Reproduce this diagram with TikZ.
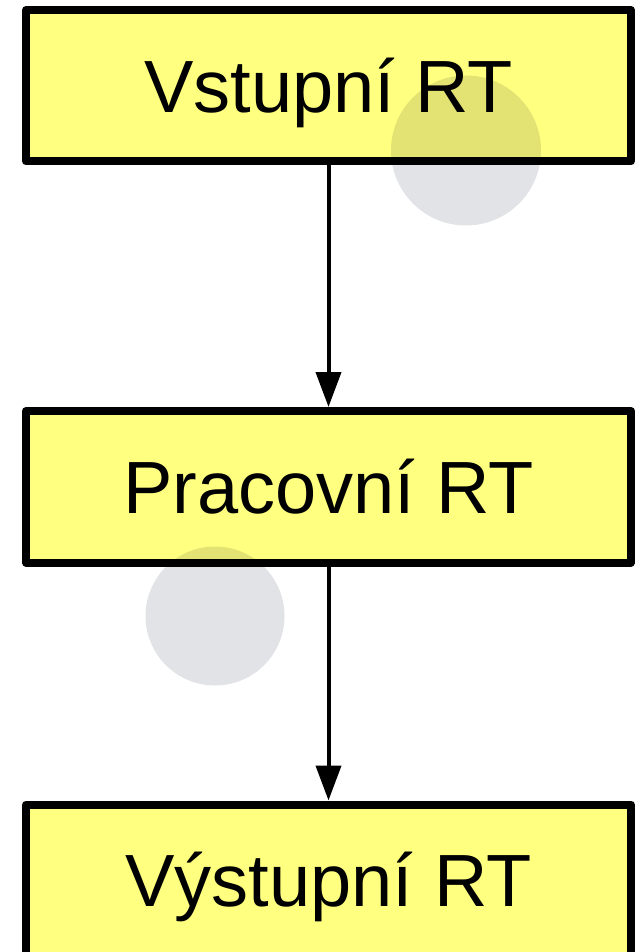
\documentclass[tikz,border=0pt]{standalone}
\usepackage{fontspec}
\setmainfont{Liberation Sans}
\usetikzlibrary{positioning,arrows.meta}
\definecolor{boxyellow}{HTML}{FFFF80}
\definecolor{spotgray}{HTML}{E2E3E6}
\newcommand{\rtfont}{\fontsize{74pt}{80pt}\selectfont}
\tikzset{
  rtbox/.style={draw=black, line width=8pt, line join=round, fill=boxyellow,
    minimum width=605pt, minimum height=151.5pt, inner sep=0pt,
    text height=53pt, text depth=0pt, align=center},
  arr/.style={-{Triangle[length=35pt,width=25pt]}, line width=4pt, color=black},
  spot/.style={fill=spotgray, blend mode=multiply},
}

\begin{document}
\begin{tikzpicture}[x=1pt, y=-1pt, font=\rtfont]
    \useasboundingbox (0,0) rectangle (643,952);
    \node[rtbox] (s1) at (328.5,85.75) {Vstupní RT};
    \node[rtbox, below=241.5pt of s1] (s2) {Pracovní RT};
    \node[rtbox, below=234pt of s2] (s3) {Výstupní RT};
    \draw[arr] (s1) -- (s2);
    \draw[arr] (s2) -- (s3);
    % šedé skvrny
    \fill[spot] (466,150.5) circle[radius=75pt];
    \fill[spot] (215,616) circle[radius=69.5pt];
  \end{tikzpicture}
\end{document}
